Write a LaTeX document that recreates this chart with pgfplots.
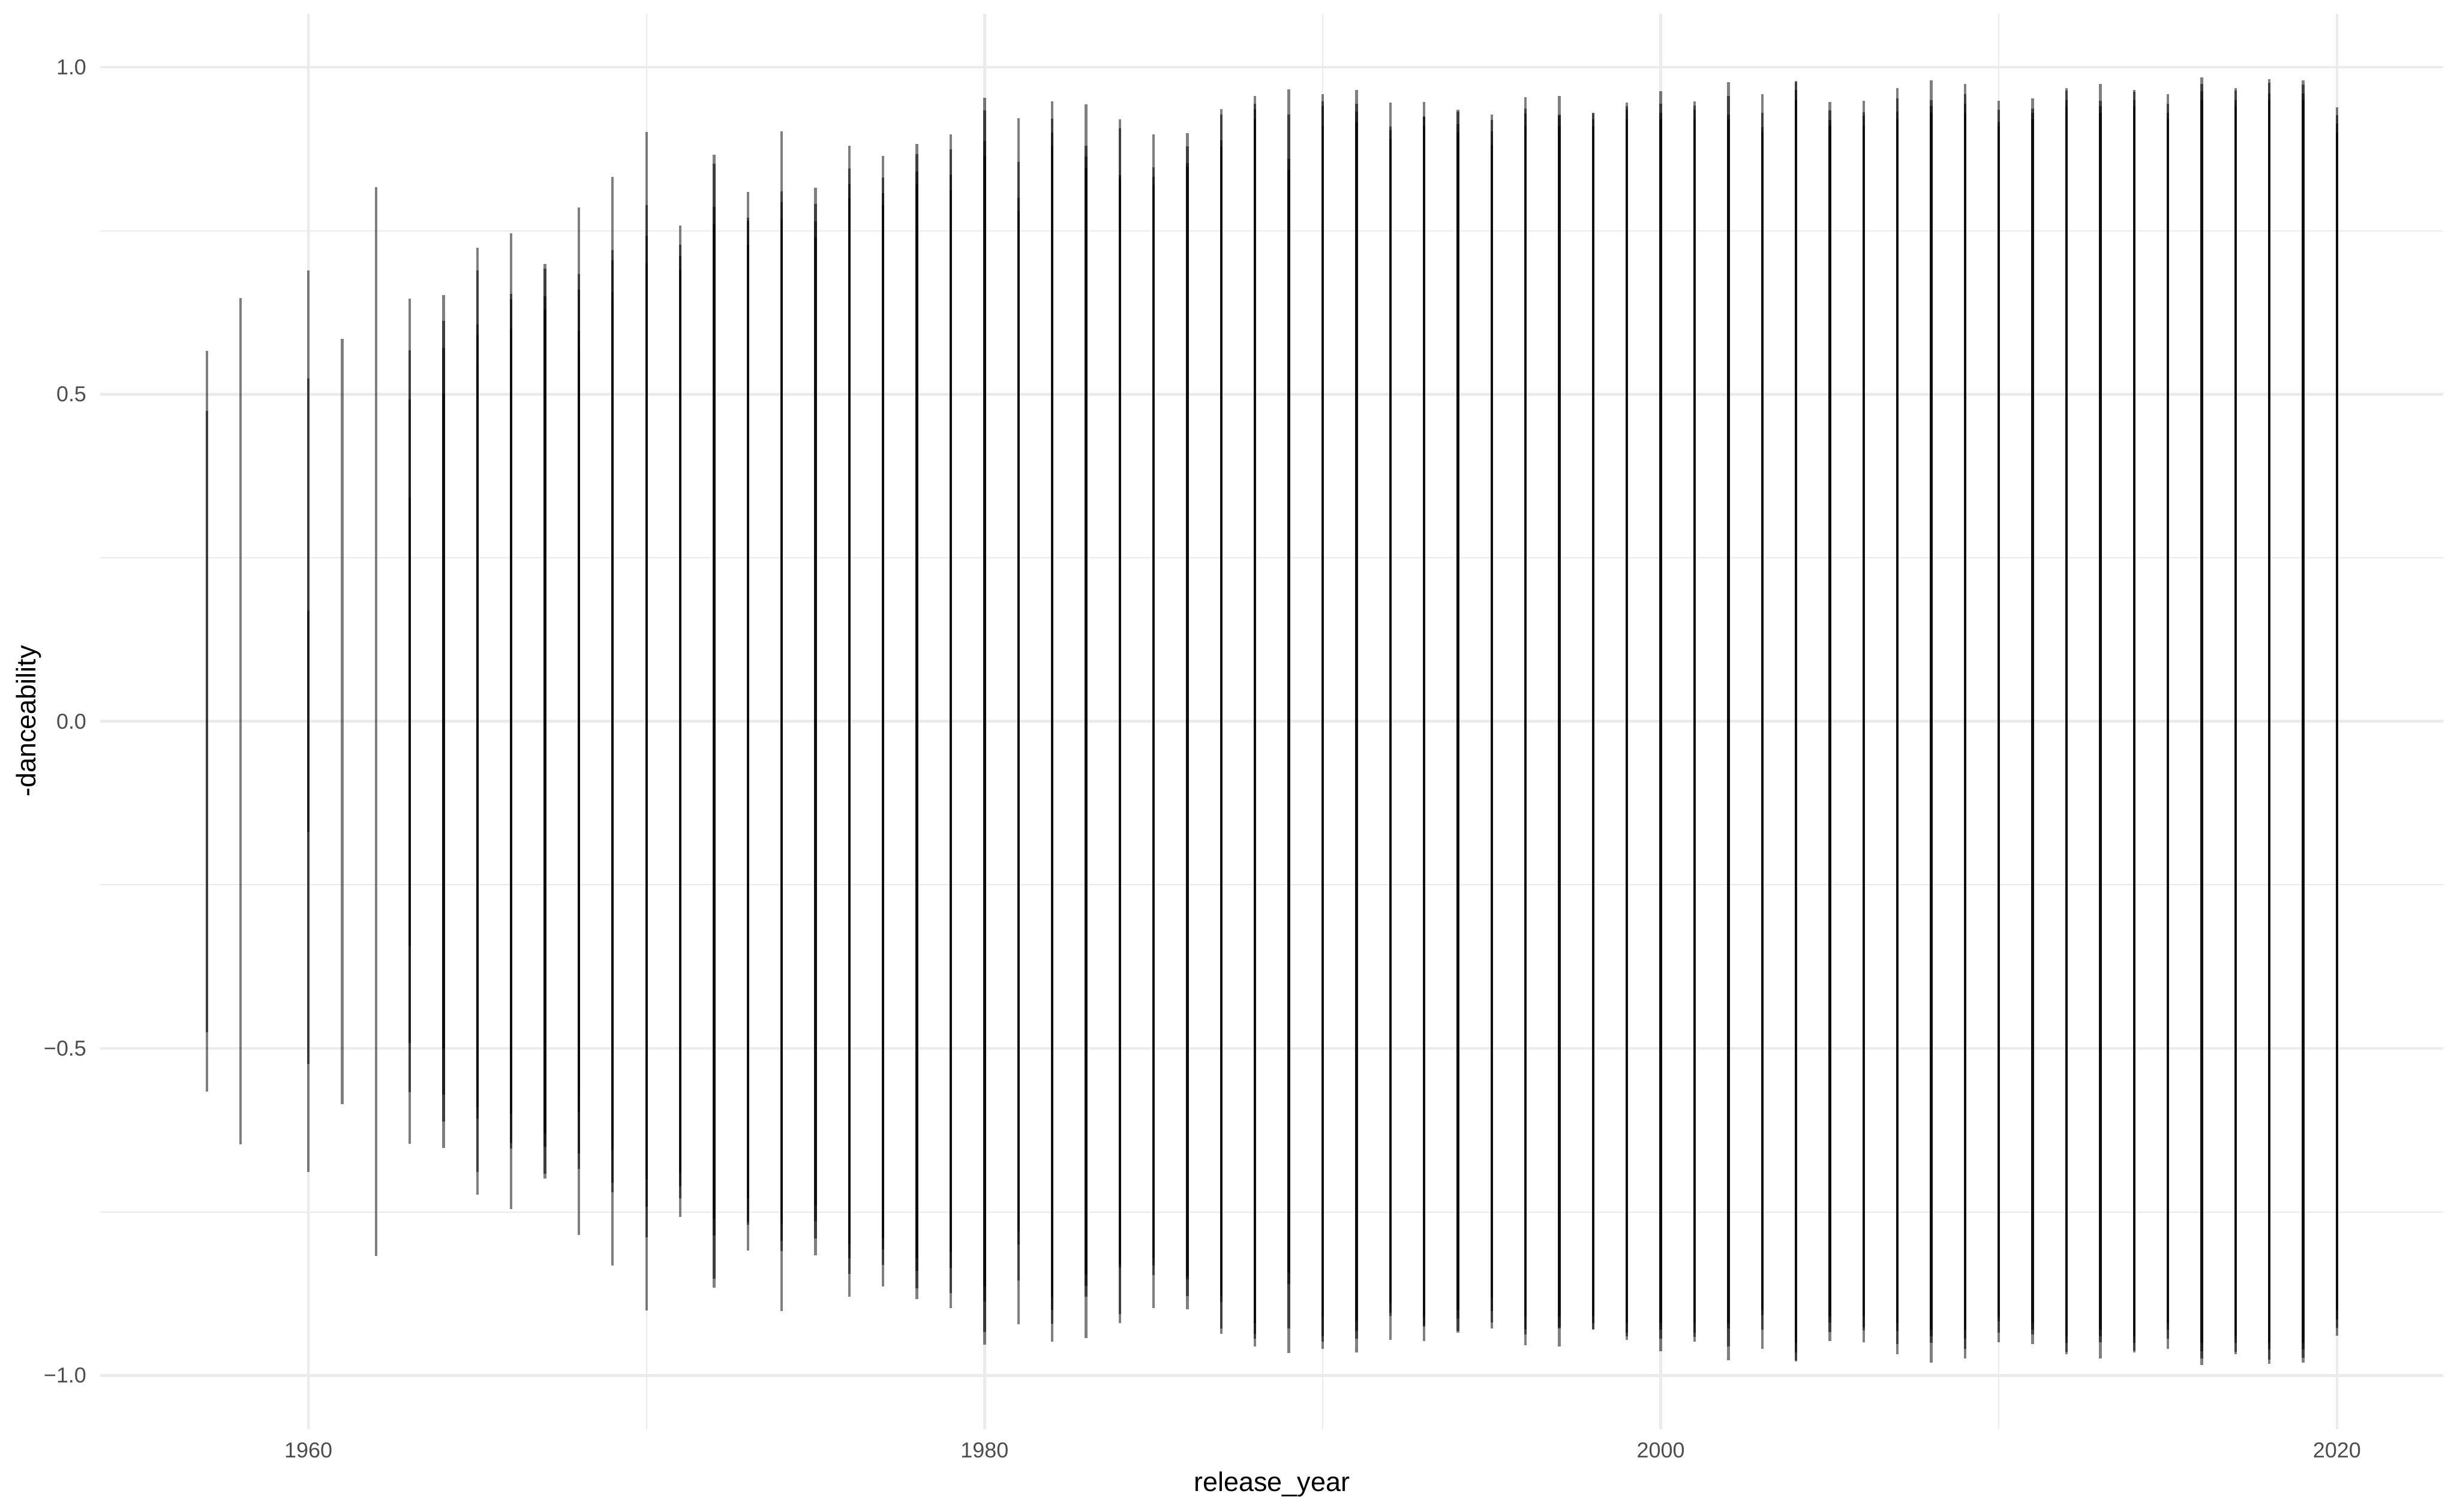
\documentclass[border=0pt]{standalone}
\usepackage{fontspec}
\setmainfont{Liberation Sans}
\usepackage{pgfplots}
\usepackage{pgfplotstable}
\pgfplotsset{compat=1.18}
\definecolor{gridc}{HTML}{EBEBEB}
\definecolor{tickc}{HTML}{4D4D4D}

% each table: one danceability level per year (rank 1 = highest song of that year, rank 2 = next, ...)
\pgfplotstableread{
year d
1957 0.566
1958 0.647
1960 0.689
1961 0.585
1962 0.817
1963 0.646
1964 0.652
1965 0.724
1966 0.746
1967 0.699
1968 0.785
1969 0.832
1970 0.901
1971 0.758
1972 0.866
1973 0.809
1974 0.902
1975 0.816
1976 0.880
1977 0.864
1978 0.883
1979 0.897
1980 0.953
1981 0.922
1982 0.948
1983 0.943
1984 0.920
1985 0.897
1986 0.899
1987 0.936
1988 0.956
1989 0.966
1990 0.959
1991 0.965
1992 0.946
1993 0.947
1994 0.935
1995 0.928
1996 0.954
1997 0.956
1998 0.930
1999 0.946
2000 0.963
2001 0.948
2002 0.977
2003 0.959
2004 0.979
2005 0.947
2006 0.949
2007 0.968
2008 0.980
2009 0.974
2010 0.949
2011 0.952
2012 0.968
2013 0.974
2014 0.965
2015 0.959
2016 0.984
2017 0.968
2018 0.982
2019 0.980
2020 0.939
}\rankone

\pgfplotstableread{
year d
1957 0.475
1960 0.524
1963 0.567
1964 0.612
1965 0.689
1966 0.653
1967 0.692
1968 0.684
1969 0.720
1970 0.789
1971 0.729
1972 0.852
1973 0.770
1974 0.810
1975 0.791
1976 0.845
1977 0.831
1978 0.867
1979 0.874
1980 0.934
1981 0.855
1982 0.921
1983 0.880
1984 0.906
1985 0.847
1986 0.879
1987 0.928
1988 0.944
1989 0.928
1990 0.948
1991 0.944
1992 0.909
1993 0.925
1994 0.932
1995 0.919
1996 0.937
1997 0.928
1998 0.929
1999 0.940
2000 0.944
2001 0.941
2002 0.956
2003 0.930
2004 0.977
2005 0.934
2006 0.931
2007 0.952
2008 0.950
2009 0.959
2010 0.935
2011 0.937
2012 0.964
2013 0.949
2014 0.962
2015 0.944
2016 0.974
2017 0.964
2018 0.976
2019 0.973
2020 0.927
}\ranktwo

\pgfplotstableread{
year d
1960 0.169
1963 0.492
1964 0.571
1965 0.607
1966 0.645
1967 0.650
1968 0.660
1969 0.705
1970 0.742
1971 0.711
1972 0.786
1973 0.765
1974 0.794
1975 0.764
1976 0.821
1977 0.807
1978 0.840
1979 0.836
1980 0.887
1981 0.800
1982 0.900
1983 0.863
1984 0.835
1985 0.832
1986 0.853
1987 0.888
1988 0.936
1989 0.860
1990 0.940
1991 0.932
1992 0.904
1993 0.924
1994 0.913
1995 0.902
1996 0.929
1997 0.926
1998 0.920
1999 0.935
2000 0.930
2001 0.935
2002 0.928
2003 0.908
2004 0.965
2005 0.919
2006 0.926
2007 0.932
2008 0.940
2009 0.944
2010 0.917
2011 0.930
2012 0.950
2013 0.940
2014 0.950
2015 0.930
2016 0.963
2017 0.950
2018 0.960
2019 0.960
2020 0.914
}\rankthree

\pgfplotstableread{
year d
1963 0.343
1964 0.500
1965 0.590
1966 0.600
1967 0.630
1968 0.597
1969 0.656
1970 0.700
1971 0.690
1972 0.760
1973 0.729
1974 0.768
1975 0.740
1976 0.800
1977 0.790
1978 0.821
1979 0.812
1980 0.864
1981 0.780
1982 0.880
1983 0.846
1984 0.830
1985 0.820
1986 0.848
1987 0.878
1988 0.920
1989 0.843
1990 0.910
1991 0.916
1992 0.890
1993 0.910
1994 0.900
1995 0.881
1996 0.910
1997 0.910
1998 0.910
1999 0.920
2000 0.920
2001 0.920
2002 0.920
2003 0.900
2004 0.950
2005 0.910
2006 0.910
2007 0.920
2008 0.930
2009 0.930
2010 0.910
2011 0.920
2012 0.940
2013 0.930
2014 0.940
2015 0.920
2016 0.950
2017 0.940
2018 0.950
2019 0.950
2020 0.900
}\rankfour

\pgfplotstableread{
year d
1965 0.550
1968 0.571
1969 0.643
}\rankfive

\pgfplotsset{
  seg/.style={draw=none, mark=none, forget plot,
    error bars/.cd, y dir=both, y explicit, error mark=none,
    error bar style={draw=black, draw opacity=0.5, line width=1.06bp}},
}

\begin{document}
\begin{tikzpicture}
\useasboundingbox (-40.8bp,-33.6bp) rectangle (957.6bp,580.8bp);
\begin{axis}[
  at={(0,0)}, anchor=south west,
  scale only axis, width=952.1bp, height=575.3bp,
  xmin=1953.85, xmax=2023.15, ymin=-1.082, ymax=1.082,
  axis line style={draw=none},
  tick style={draw=none}, major tick length=0pt, minor tick length=0pt,
  xtick={1960,1980,2000,2020},
  xticklabels={1960,1980,2000,2020},
  minor xtick={1970,1990,2010},
  ytick={-1,-0.5,0,0.5,1},
  yticklabels={−1.0,−0.5,0.0,0.5,1.0},
  minor ytick={-0.75,-0.25,0.25,0.75},
  xmajorgrids, ymajorgrids, xminorgrids, yminorgrids,
  major grid style={draw=gridc, line width=1.07bp},
  minor grid style={draw=gridc, line width=0.53bp},
  xticklabel style={font=\fontsize{8.8}{10}\selectfont, text=tickc, inner sep=0pt, anchor=north},
  yticklabel style={font=\fontsize{8.8}{10}\selectfont, text=tickc, inner sep=0pt, anchor=east},
  xticklabel shift=5.2bp,
  yticklabel shift=5.5bp,
]
\addplot[seg] table[x=year, y expr=0, y error=d] {\rankone};
\addplot[seg] table[x=year, y expr=0, y error=d] {\ranktwo};
\addplot[seg] table[x=year, y expr=0, y error=d] {\rankthree};
\addplot[seg] table[x=year, y expr=0, y error=d] {\rankfour};
\addplot[seg] table[x=year, y expr=0, y error=d] {\rankfive};
\end{axis}
\node[anchor=base, inner sep=0pt, font=\fontsize{11}{13}\selectfont] at (476.05bp,-25.3bp) {release\_year};
\node[rotate=90, anchor=base, inner sep=0pt, font=\fontsize{11}{13}\selectfont] at (-26.4bp,287.65bp) {-danceability};
\end{tikzpicture}
\end{document}
